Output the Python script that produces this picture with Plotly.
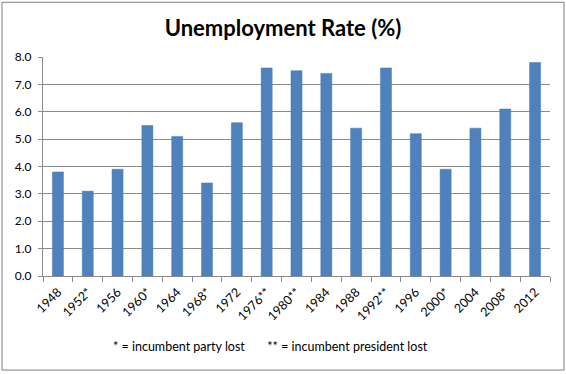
import plotly.graph_objects as go

years = ["1948", "1952*", "1956", "1960*", "1964", "1968*", "1972", "1976**", "1980**",
         "1984", "1988", "1992**", "1996", "2000*", "2004", "2008*", "2012"]
rates = [3.8, 3.1, 3.9, 5.5, 5.1, 3.4, 5.6, 7.6, 7.5, 7.4, 5.4, 7.6, 5.2, 3.9, 5.4, 6.1, 7.8]
y_ticks = [0, 1, 2, 3, 4, 5, 6, 7, 8]
y_tick_labels = ["0.0", "1.0", "2.0", "3.0", "4.0", "5.0", "6.0", "7.0", "8.0"]
title_text = "Unemployment Rate (%)"
footnote = "* = incumbent party lost" + "&nbsp;" * 7 + "** = incumbent president lost"

FONT = "Lato, 'Open Sans', sans-serif"
GRID = "#8a8a8a"

fig = go.Figure(go.Bar(
    x=years, y=rates,
    marker=dict(color="#4f81bd", line=dict(color="#4a7ab3", width=0.5)),
    hoverinfo="x+y",
))

W, H = 566, 374
L, R, T, B = 43, 16, 56.5, 97.5
pw, ph = W - L - R, H - T - B

def px_x(x):
    return (x - L) / pw

def px_y(y):
    return (H - B - y) / ph

fig.update_layout(
    width=W, height=H,
    margin=dict(l=L, r=R, t=T, b=B, pad=0),
    paper_bgcolor="white", plot_bgcolor="white",
    bargap=0.63,
    showlegend=False,
    font=dict(family=FONT, size=12, color="#000000"),
    title=dict(text=title_text, x=283 / W, xanchor="center", xref="container",
               y=1 - 28 / H, yanchor="middle", yref="container",
               font=dict(family=FONT, size=22, weight="bold", color="#000000")),
    xaxis=dict(type="category", tickangle=-45, showline=True, linecolor=GRID, linewidth=1,
               ticks="outside", tickson="boundaries", ticklen=5, tickcolor=GRID,
               showgrid=False, ticklabelstandoff=3,
               tickfont=dict(family=FONT, size=12.5, color="#000000")),
    yaxis=dict(range=[0, 8], tickvals=y_ticks, ticktext=y_tick_labels, showline=True,
               linecolor=GRID, linewidth=1, ticks="outside", ticklen=4, tickcolor=GRID,
               showgrid=True, gridcolor=GRID, gridwidth=1, zeroline=False,
               ticklabelstandoff=4,
               tickfont=dict(family=FONT, size=12, color="#000000")),
    annotations=[dict(text=footnote, xref="paper", yref="paper",
                      x=px_x(270), y=px_y(347), xanchor="center", yanchor="middle",
                      showarrow=False, font=dict(family=FONT, size=12.5, color="#000000"))],
    shapes=[dict(type="rect", xref="paper", yref="paper",
                 x0=px_x(2), x1=px_x(564), y0=px_y(371), y1=px_y(1.5),
                 line=dict(color="#7f7f7f", width=1), fillcolor="rgba(0,0,0,0)", layer="below")],
)

fig.write_html("out.html", config={"displayModeBar": False},
               post_script="document.body.style.margin='0';document.body.style.overflow='hidden';")
